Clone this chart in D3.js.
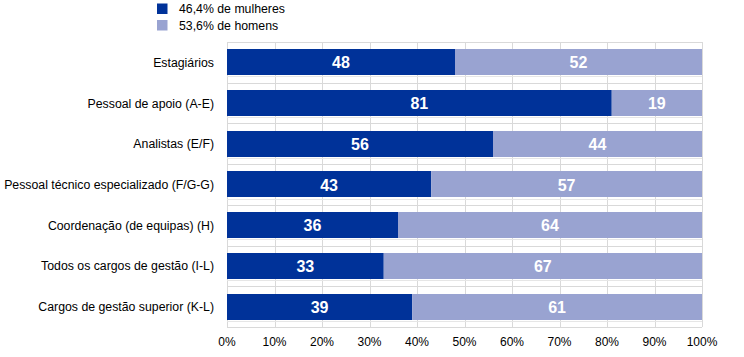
<!DOCTYPE html>
<html><head><meta charset="utf-8">
<script src="https://cdn.jsdelivr.net/npm/d3@7"></script>
<style>body{margin:0;background:#fff}svg{display:block;font-family:"Liberation Sans",Arial,sans-serif}</style>
</head><body><svg id="c" width="744" height="357"></svg>
<script>
const categories = ["Estagiários","Pessoal de apoio (A-E)","Analistas (E/F)","Pessoal técnico especializado (F/G-G)","Coordenação (de equipas) (H)","Todos os cargos de gestão (I-L)","Cargos de gestão superior (K-L)"];
const women = [48,81,56,43,36,33,39];
const men = [52,19,44,57,64,67,61];
const seriesNames = ["46,4% de mulheres","53,6% de homens"];
const tickValues = [0,10,20,30,40,50,60,70,80,90,100];
const colors = ["#003299","#99A3D1"];

const svg = d3.select("#c");
const m = {l:227, r:702, t:42, b:327};
const x = d3.scaleLinear().domain([0,100]).range([m.l,m.r]);
const y = d3.scaleBand().domain(categories).range([m.t,m.b]).paddingInner(0.36).paddingOuter(0.18);
const yb = d3.scaleBand().domain(categories).range([m.t,m.b]);

const grid = svg.append("g");
grid.selectAll("line.v").data(tickValues).join("line")
  .attr("x1",d=>Math.round(x(d))+0.5).attr("x2",d=>Math.round(x(d))+0.5)
  .attr("y1",m.t).attr("y2",m.b).attr("stroke","#d9d9d9");
const hb = categories.map(c=>yb(c)).concat([m.b]);
grid.selectAll("line.h").data(hb).join("line")
  .attr("x1",m.l).attr("x2",m.r).attr("y1",d=>Math.round(d)+0.5).attr("y2",d=>Math.round(d)+0.5).attr("stroke","#d9d9d9");
grid.selectAll("line.hb").data(categories).join("line")
  .attr("x1",m.l).attr("x2",m.r).attr("y1",d=>Math.round(y(d)+y.bandwidth())+1.5).attr("y2",d=>Math.round(y(d)+y.bandwidth())+1.5).attr("stroke","#e6e6e6");

const data = categories.map((c,i)=>({c, segs:[{v0:0,v1:women[i],v:women[i],k:0},{v0:women[i],v1:women[i]+men[i],v:men[i],k:1}]}));
const g = svg.append("g");
data.forEach(d=>{
  d.segs.forEach(s=>{
    g.append("rect").attr("x",x(s.v0)).attr("width",x(s.v1)-x(s.v0))
      .attr("y",Math.round(y(d.c))).attr("height",Math.round(y.bandwidth())).attr("fill",colors[s.k]);
    g.append("text").attr("x",(x(s.v0)+x(s.v1))/2).attr("y",y(d.c)+y.bandwidth()/2+6)
      .attr("text-anchor","middle").attr("fill","#fff").attr("font-weight","bold").attr("font-size","16px").text(s.v);
  });
  svg.append("text").attr("x",214).attr("y",y(d.c)+y.bandwidth()/2+4.5).attr("text-anchor","end")
    .attr("font-size","12.3px").attr("fill","#000").text(d.c);
});

svg.append("g").selectAll("text").data(tickValues).join("text")
  .attr("x",d=>x(d)).attr("y",346).attr("text-anchor","middle").attr("font-size","12px").text(d=>d+"%");

const lg = svg.append("g");
seriesNames.forEach((n,i)=>{
  lg.append("rect").attr("x",157).attr("y",3.5+i*16.5).attr("width",10.5).attr("height",10.5).attr("fill",colors[i]);
  lg.append("text").attr("x",179).attr("y",13+i*16.5).attr("font-size","12.3px").text(n);
});
</script></body></html>
